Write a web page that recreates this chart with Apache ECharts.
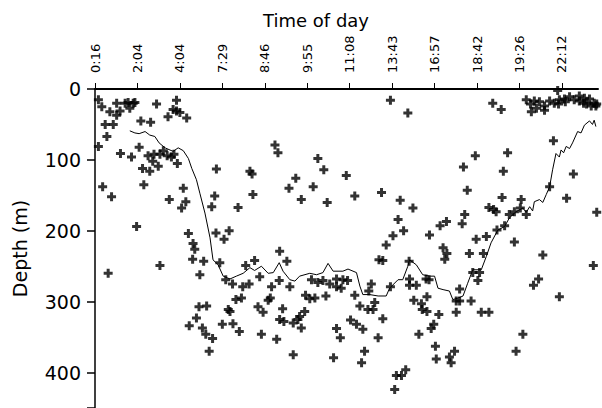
<!DOCTYPE html>
<html>
<head>
<meta charset="utf-8">
<style>
  html, body { margin: 0; padding: 0; background: #fff; }
  #chart { width: 602px; height: 408px; }
</style>
<script src="https://cdn.jsdelivr.net/npm/echarts@6/dist/echarts.min.js"></script>
</head>
<body>
<div id="chart"></div>
<script>
// tick labels along the top axis, one per tick (x unit = one tick step)
var timeLabels = ['0:16', '2:04', '4:04', '7:29', '8:46', '9:55', '11:08', '13:43', '16:57', '18:42', '19:26', '22:12'];
var depthTicks = [0, 100, 200, 300, 400];

// individual dives: [position, depth m]
var divePoints = [
  [0.08, 15], [0.16, 25], [0.35, 32], [0.51, 20], [0.59, 31], [0.51, 37], [0.71, 20], [0.78, 19],
  [0.90, 20], [0.94, 19], [0.82, 27], [1.45, 21], [1.92, 16], [1.72, 39], [1.84, 29], [1.92, 31],
  [2.00, 33], [2.16, 41], [1.08, 45], [1.31, 47], [0.24, 50], [0.43, 50], [0.28, 67], [0.08, 81],
  [0.60, 91], [0.86, 96], [1.04, 82], [1.25, 94], [1.39, 92], [1.53, 92], [1.61, 87], [1.70, 94],
  [1.80, 96], [1.86, 92], [1.94, 105], [1.36, 102], [1.12, 112], [1.29, 116], [1.49, 109], [1.15, 135],
  [0.18, 138], [0.39, 152], [1.75, 156], [2.08, 140], [2.14, 159], [2.04, 168], [0.98, 194], [0.31, 260],
  [1.53, 249], [2.86, 113], [4.24, 79], [4.31, 90], [3.65, 116], [3.70, 120], [3.72, 149], [2.82, 151],
  [2.75, 166], [3.37, 167], [4.73, 126], [4.57, 140], [4.86, 156], [5.14, 138], [5.25, 98], [5.39, 114],
  [5.47, 160], [2.20, 204], [2.31, 218], [2.35, 226], [2.30, 240], [2.56, 243], [2.47, 262], [2.85, 203],
  [3.04, 212], [3.16, 200], [2.94, 245], [4.35, 229], [4.52, 243], [3.55, 249], [3.76, 242], [3.08, 269],
  [3.24, 275], [3.48, 279], [3.63, 275], [3.88, 265], [4.16, 279], [4.34, 270], [4.59, 279], [3.32, 297],
  [3.45, 295], [4.08, 298], [4.13, 295], [3.84, 307], [3.96, 315], [4.96, 291], [5.06, 296], [5.18, 295],
  [5.44, 292], [5.10, 269], [5.25, 273], [5.37, 270], [5.53, 275], [5.69, 279], [5.69, 268], [2.45, 307],
  [2.63, 306], [2.39, 323], [2.22, 334], [2.53, 337], [2.61, 346], [2.77, 352], [2.69, 370], [3.14, 311],
  [3.18, 314], [3.00, 332], [3.25, 331], [3.40, 342], [3.92, 346], [4.28, 353], [4.42, 310], [4.35, 325],
  [4.45, 328], [4.67, 330], [4.78, 325], [4.82, 321], [4.86, 337], [4.94, 314], [4.67, 375], [5.62, 379],
  [5.69, 338], [6.96, 16], [7.37, 34], [9.37, 20], [9.57, 29],
  [10.16, 15], [10.26, 21], [10.35, 17], [10.47, 18], [10.59, 24], [10.71, 17], [10.82, 20], [10.94, 15],
  [11.06, 14], [11.18, 11], [11.29, 15], [11.41, 10], [11.53, 13], [11.65, 14], [11.76, 20], [11.41, 17],
  [11.58, 21], [11.69, 24], [11.82, 21], [11.80, 24], [10.40, 27], [10.59, 30], [10.28, 32], [10.92, 21],
  [11.08, 18], [11.51, 20], [10.90, 2],
  [5.92, 122], [6.12, 151], [6.75, 146], [7.19, 157], [7.49, 168], [7.14, 184], [7.27, 200], [7.02, 207],
  [6.86, 220], [6.69, 241], [6.78, 242], [7.40, 243], [7.88, 206], [8.13, 193], [8.28, 187], [8.20, 224],
  [8.29, 232], [8.24, 240], [8.71, 177], [8.65, 190], [8.68, 110], [8.96, 94], [8.77, 143], [8.82, 232],
  [8.98, 212], [9.22, 208], [9.15, 232], [9.72, 90], [9.62, 116], [9.59, 153], [9.28, 167], [9.39, 170],
  [9.45, 173], [9.47, 199], [9.65, 193], [9.76, 177], [9.88, 173], [10.04, 156], [10.02, 168], [10.16, 177],
  [9.88, 216], [10.55, 234], [10.71, 138], [10.80, 73], [11.27, 120], [11.11, 154], [11.82, 174], [11.74, 249],
  [10.33, 277], [10.45, 268], [10.94, 293], [10.08, 346], [9.92, 370],
  [5.84, 269], [5.95, 270], [5.80, 281], [6.12, 291], [6.24, 306], [6.43, 311], [6.55, 311], [6.59, 301],
  [6.51, 275], [6.45, 285], [6.78, 324], [6.96, 279], [6.02, 326], [6.16, 332], [6.31, 339], [5.78, 351],
  [6.67, 351], [6.35, 370], [6.28, 386], [7.10, 404], [7.22, 404], [7.32, 396], [7.06, 424], [7.41, 268],
  [7.57, 277], [7.41, 277], [7.80, 268], [7.87, 269], [7.51, 298], [7.69, 303], [7.82, 293], [7.71, 311],
  [7.82, 314], [8.10, 318], [7.98, 332], [7.92, 338], [7.63, 346], [8.02, 363], [8.04, 381], [8.35, 378],
  [8.39, 386], [8.47, 370], [8.51, 299], [8.59, 299], [8.51, 315], [8.59, 282], [8.86, 299], [9.10, 315],
  [9.28, 315], [9.02, 270], [8.90, 259], [9.06, 259]
];

// running mean depth: [position, depth m]
var meanDepth = [
  [0.82, 59], [0.94, 62], [1.04, 63], [1.18, 60], [1.29, 65], [1.41, 67], [1.51, 76], [1.65, 83],
  [1.84, 88], [1.96, 83], [2.08, 87], [2.20, 98], [2.28, 112], [2.39, 128], [2.47, 147], [2.59, 175],
  [2.71, 210], [2.78, 241], [2.90, 248], [3.02, 264], [3.18, 268], [3.33, 264], [3.49, 260], [3.65, 252],
  [3.76, 256], [3.92, 250], [4.08, 260], [4.20, 259], [4.34, 245], [4.43, 257], [4.59, 269], [4.71, 271],
  [4.82, 264], [5.06, 260], [5.22, 262], [5.37, 259], [5.49, 246], [5.61, 257], [5.84, 257], [5.96, 254],
  [6.16, 259], [6.24, 278], [6.31, 290], [6.47, 290], [6.67, 292], [6.86, 292], [6.94, 281], [7.14, 269],
  [7.25, 269], [7.37, 250], [7.41, 241], [7.57, 248], [7.72, 262], [7.88, 264], [8.00, 264], [8.08, 281],
  [8.20, 283], [8.35, 285], [8.43, 297], [8.55, 295], [8.67, 292], [8.78, 274], [8.90, 255], [9.10, 255],
  [9.22, 236], [9.33, 217], [9.49, 199], [9.65, 194], [9.76, 182], [9.92, 173], [10.08, 168], [10.16, 174],
  [10.24, 166], [10.31, 172], [10.35, 159], [10.47, 156], [10.55, 160], [10.63, 149], [10.71, 138], [10.78, 114],
  [10.86, 91], [10.94, 96], [10.98, 86], [11.04, 90], [11.10, 81], [11.18, 84], [11.25, 76], [11.37, 60],
  [11.45, 62], [11.53, 51], [11.65, 45], [11.72, 50], [11.76, 44], [11.80, 53]
];

var chart = echarts.init(document.getElementById('chart'), null, { renderer: 'svg' });
var font = 'DejaVu Sans';
// chunky plus marker
var plusPath = 'path://M3,0h3v3h3v3h-3v3h-3v-3h-3v-3h3z';

chart.setOption({
  animation: false,
  backgroundColor: '#fff',
  title: {
    text: 'Time of day',
    left: 311, top: 6,
    textAlign: 'center',
    textStyle: { fontFamily: font, fontSize: 18, fontWeight: 'normal', color: '#000' }
  },
  grid: { left: 95, top: 89, right: 4, bottom: 0 },
  xAxis: {
    type: 'value',
    position: 'top',
    min: 0, max: 11.85, interval: 1,
    splitLine: { show: false },
    axisLine: { lineStyle: { color: '#000', width: 2 } },
    axisTick: { length: 6, lineStyle: { color: '#000' } },
    axisLabel: {
      rotate: 90, margin: 16, color: '#000', fontFamily: font, fontSize: 13,
      showMaxLabel: false,
      formatter: function(v) { return timeLabels[Math.round(v)] && Math.abs(v - Math.round(v)) < 1e-6 ? timeLabels[Math.round(v)] : ''; }
    }
  },
  yAxis: {
    type: 'value',
    inverse: true,
    min: 0, max: 450, interval: 100,
    name: 'Depth (m)',
    nameLocation: 'middle',
    nameGap: 66,
    nameTextStyle: { fontFamily: font, fontSize: 19, color: '#000' },
    splitLine: { show: false },
    axisLine: { lineStyle: { color: '#000', width: 1.5 } },
    axisTick: { length: 8, lineStyle: { color: '#000', width: 1.5 } },
    axisLabel: {
      margin: 14, color: '#000', fontFamily: font, fontSize: 19,
      formatter: function(v) { return depthTicks.indexOf(v) >= 0 ? String(v) : ''; }
    }
  },
  series: [{
    type: 'line',
    data: meanDepth,
    symbol: 'none',
    lineStyle: { color: '#000', width: 1 },
    z: 2
  }, {
    type: 'scatter',
    data: divePoints,
    symbol: plusPath,
    symbolSize: 9,
    itemStyle: { color: '#000' },
    z: 3
  }]
});
</script>
</body>
</html>
